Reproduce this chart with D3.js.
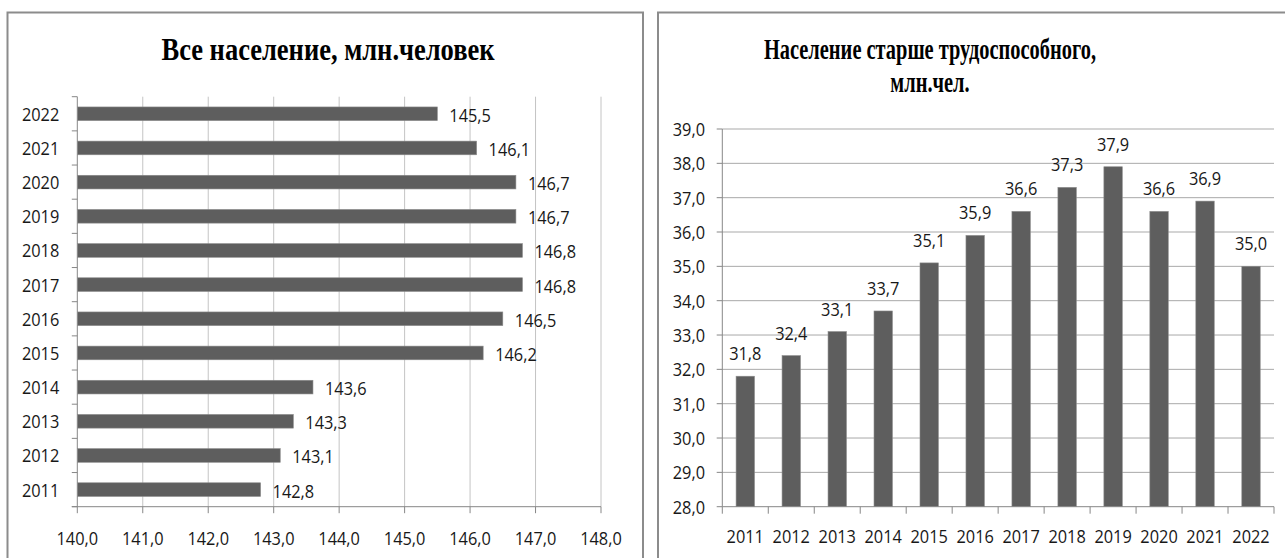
<!DOCTYPE html>
<html>
<head>
<meta charset="utf-8">
<script src="https://cdn.jsdelivr.net/npm/d3@7"></script>
<style>
  body { margin: 0; background: #fff; }
  .lbl { font-family: 'Open Sans', sans-serif; font-size: 19px; fill: #181818; }
  .ttl { font-family: 'Liberation Serif', 'Times New Roman', serif; font-size: 31px; font-weight: bold; fill: #000; }
</style>
</head>
<body>
<svg id="chart"></svg>
<script>
var width = 1285;
var height = 558;

// data
var years = ['2011', '2012', '2013', '2014', '2015', '2016', '2017', '2018', '2019', '2020', '2021', '2022'];
var allPopulation = [142.8, 143.1, 143.3, 143.6, 146.2, 146.5, 146.8, 146.8, 146.7, 146.7, 146.1, 145.5];
var olderPopulation = [31.8, 32.4, 33.1, 33.7, 35.1, 35.9, 36.6, 37.3, 37.9, 36.6, 36.9, 35.0];
var leftTicks = [140, 141, 142, 143, 144, 145, 146, 147, 148];
var rightTicks = [28, 29, 30, 31, 32, 33, 34, 35, 36, 37, 38, 39];
var leftTitle = 'Все население, млн.человек';
var rightTitle = ['Население старше трудоспособного,', 'млн.чел.'];

var svg = d3.select('#chart')
  .attr('width', width)
  .attr('height', height);

// russian style numbers, comma decimal
var ru = d3.formatLocale({ decimal: ',', thousands: ' ', grouping: [3], currency: ['', ''] });
var fmt = ru.format('.1f');

var barColor = '#5e5e5e';
var axisColor = '#878787';
var textSqueeze = 0.86;

// the picture is narrowed horizontally, so squash the text the same way
function squeeze(sel, k) {
  sel.each(function() {
    var w = this.getComputedTextLength();
    d3.select(this).attr('textLength', w * k).attr('lengthAdjust', 'spacingAndGlyphs');
  });
}

// ---------- left chart: horizontal bars ----------
var L = { left: 77.3, right: 601, top: 96.7, bottom: 506.7 };

svg.append('rect')
  .attr('x', 7.5).attr('y', 12.5)
  .attr('width', 635.5).attr('height', 600)
  .attr('fill', 'none').attr('stroke', '#8c8c8c').attr('stroke-width', 2);

var xL = d3.scaleLinear().domain([140, 148]).range([L.left, L.right]);
var yL = d3.scaleBand()
  .domain(years.slice().reverse())
  .range([L.top, L.bottom])
  .paddingInner(0.6)
  .paddingOuter(0.3);

var leftData = years.map(function(y, i) { return { year: y, value: allPopulation[i] }; });

// gridlines
svg.append('g').selectAll('line')
  .data(leftTicks.slice(1))
  .enter().append('line')
  .attr('x1', function(d) { return xL(d); })
  .attr('x2', function(d) { return xL(d); })
  .attr('y1', L.top).attr('y2', L.bottom)
  .attr('stroke', '#c4c4c4').attr('stroke-width', 1);

// bars
svg.append('g').selectAll('rect')
  .data(leftData)
  .enter().append('rect')
  .attr('x', xL(140))
  .attr('y', function(d) { return yL(d.year); })
  .attr('width', function(d) { return xL(d.value) - xL(140); })
  .attr('height', yL.bandwidth())
  .attr('fill', barColor)
  .attr('stroke', '#8a8a8a').attr('stroke-width', 0.6);

// axis lines
svg.append('line')
  .attr('x1', L.left).attr('x2', L.left)
  .attr('y1', L.top).attr('y2', L.bottom)
  .attr('stroke', axisColor);
svg.append('line')
  .attr('x1', L.left - 5.5).attr('x2', L.right)
  .attr('y1', L.bottom).attr('y2', L.bottom)
  .attr('stroke', axisColor);

// category boundary ticks on the left axis
var stepL = yL.step();
svg.append('g').selectAll('line')
  .data(d3.range(years.length + 1))
  .enter().append('line')
  .attr('x1', L.left - 5.5).attr('x2', L.left)
  .attr('y1', function(i) { return L.top + i * stepL; })
  .attr('y2', function(i) { return L.top + i * stepL; })
  .attr('stroke', axisColor);

// value ticks below
svg.append('g').selectAll('line')
  .data(leftTicks)
  .enter().append('line')
  .attr('x1', function(d) { return xL(d); })
  .attr('x2', function(d) { return xL(d); })
  .attr('y1', L.bottom).attr('y2', L.bottom + 6.5)
  .attr('stroke', axisColor);

// year labels
svg.append('g').selectAll('text')
  .data(leftData)
  .enter().append('text').attr('class', 'lbl')
  .attr('x', L.left - 18)
  .attr('y', function(d) { return yL(d.year) + yL.bandwidth() / 2 + 7; })
  .attr('text-anchor', 'end')
  .text(function(d) { return d.year; })
  .call(squeeze, textSqueeze);

// value tick labels
svg.append('g').selectAll('text')
  .data(leftTicks)
  .enter().append('text').attr('class', 'lbl')
  .attr('x', function(d) { return xL(d); })
  .attr('y', 545)
  .attr('text-anchor', 'middle')
  .text(function(d) { return fmt(d); })
  .call(squeeze, textSqueeze);

// bar value labels
svg.append('g').selectAll('text')
  .data(leftData)
  .enter().append('text').attr('class', 'lbl')
  .attr('x', function(d) { return xL(d.value) + 12; })
  .attr('y', function(d) { return yL(d.year) + yL.bandwidth() / 2 + 8; })
  .text(function(d) { return fmt(d.value); })
  .call(squeeze, textSqueeze);

svg.append('text').attr('class', 'ttl')
  .attr('x', 328).attr('y', 60)
  .attr('text-anchor', 'middle')
  .text(leftTitle)
  .call(squeeze, 0.855);

// ---------- right chart: vertical bars ----------
var R = { left: 722.3, right: 1274, top: 129, bottom: 506.7 };

svg.append('rect')
  .attr('x', 658).attr('y', 12.5)
  .attr('width', 700).attr('height', 600)
  .attr('fill', 'none').attr('stroke', '#8c8c8c').attr('stroke-width', 2);

var yR = d3.scaleLinear().domain([28, 39]).range([R.bottom, R.top]);
var xR = d3.scaleBand()
  .domain(years)
  .range([R.left, R.right])
  .paddingInner(0.6)
  .paddingOuter(0.3);

var rightData = years.map(function(y, i) { return { year: y, value: olderPopulation[i] }; });

svg.append('g').selectAll('line')
  .data(rightTicks.slice(1))
  .enter().append('line')
  .attr('x1', R.left).attr('x2', R.right)
  .attr('y1', function(d) { return yR(d); })
  .attr('y2', function(d) { return yR(d); })
  .attr('stroke', '#a9a9a9').attr('stroke-width', 1);

svg.append('g').selectAll('rect')
  .data(rightData)
  .enter().append('rect')
  .attr('x', function(d) { return xR(d.year); })
  .attr('y', function(d) { return yR(d.value); })
  .attr('width', xR.bandwidth())
  .attr('height', function(d) { return yR(28) - yR(d.value); })
  .attr('fill', barColor)
  .attr('stroke', '#8a8a8a').attr('stroke-width', 0.6);

svg.append('line')
  .attr('x1', R.left).attr('x2', R.left)
  .attr('y1', R.top).attr('y2', R.bottom)
  .attr('stroke', axisColor);
svg.append('line')
  .attr('x1', R.left).attr('x2', R.right)
  .attr('y1', R.bottom).attr('y2', R.bottom)
  .attr('stroke', axisColor);

svg.append('g').selectAll('line')
  .data(rightTicks)
  .enter().append('line')
  .attr('x1', R.left - 5.6).attr('x2', R.left)
  .attr('y1', function(d) { return yR(d); })
  .attr('y2', function(d) { return yR(d); })
  .attr('stroke', axisColor);

var stepR = xR.step();
svg.append('g').selectAll('line')
  .data(d3.range(years.length + 1))
  .enter().append('line')
  .attr('x1', function(i) { return R.left + i * stepR; })
  .attr('x2', function(i) { return R.left + i * stepR; })
  .attr('y1', R.bottom).attr('y2', R.bottom + 7)
  .attr('stroke', axisColor);

svg.append('g').selectAll('text')
  .data(rightTicks)
  .enter().append('text').attr('class', 'lbl')
  .attr('x', 705)
  .attr('y', function(d) { return yR(d) + 7; })
  .attr('text-anchor', 'end')
  .text(function(d) { return fmt(d); })
  .call(squeeze, textSqueeze);

svg.append('g').selectAll('text')
  .data(rightData)
  .enter().append('text').attr('class', 'lbl')
  .attr('x', function(d) { return xR(d.year) + xR.bandwidth() / 2; })
  .attr('y', 543)
  .attr('text-anchor', 'middle')
  .text(function(d) { return d.year; })
  .call(squeeze, textSqueeze);

svg.append('g').selectAll('text')
  .data(rightData)
  .enter().append('text').attr('class', 'lbl')
  .attr('x', function(d) { return xR(d.year) + xR.bandwidth() / 2; })
  .attr('y', function(d) { return yR(d.value) - 16; })
  .attr('text-anchor', 'middle')
  .text(function(d) { return fmt(d.value); })
  .call(squeeze, textSqueeze);

// right title is narrower than the left one in the picture
svg.append('g').selectAll('text')
  .data(rightTitle)
  .enter().append('text').attr('class', 'ttl')
  .style('font-size', '30px')
  .attr('x', 930)
  .attr('y', function(d, i) { return 59 + i * 33; })
  .attr('text-anchor', 'middle')
  .text(function(d) { return d; })
  .call(squeeze, 0.68);
</script>
</body>
</html>
